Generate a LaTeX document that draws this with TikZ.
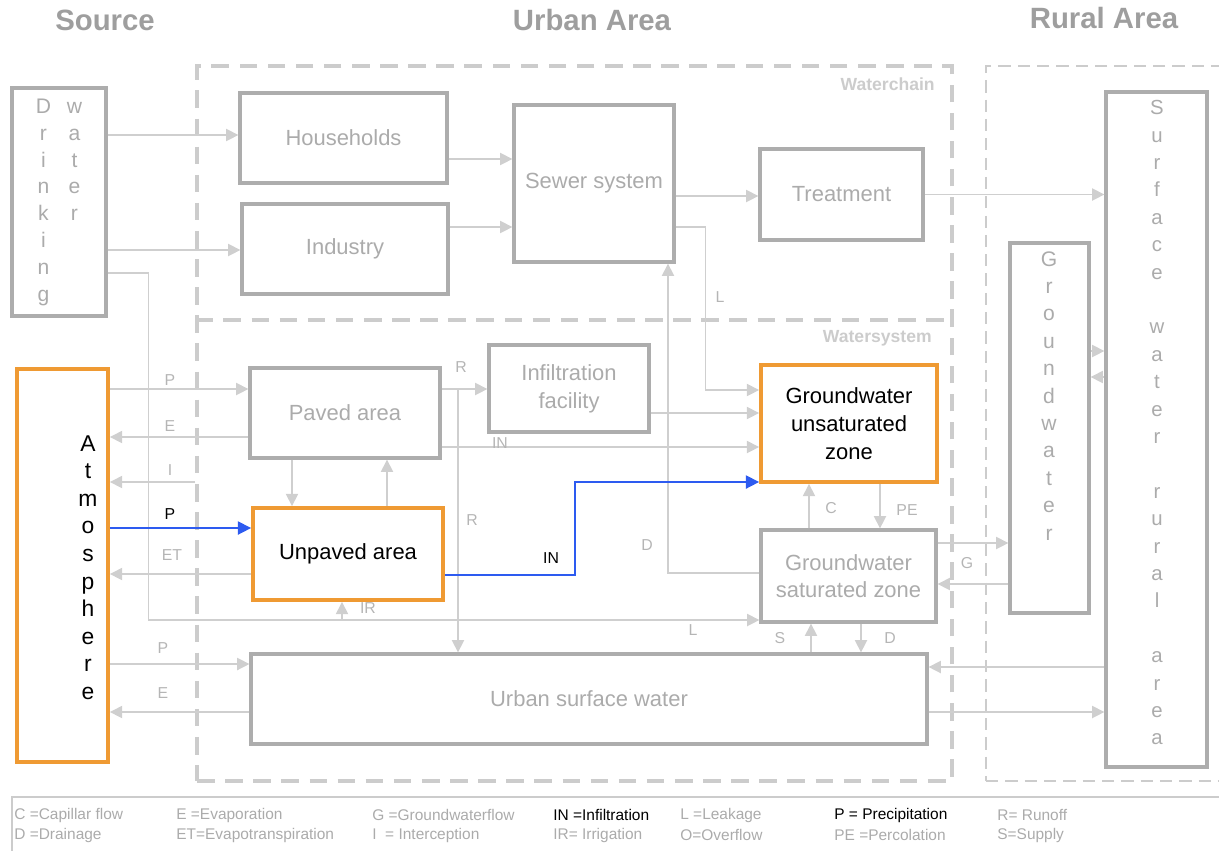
\documentclass[tikz,border=0pt]{standalone}
\usepackage{fontspec}
\setmainfont{Liberation Sans}
\usetikzlibrary{arrows.meta}
\definecolor{hdgray}{HTML}{9E9E9E}
\definecolor{boxgray}{HTML}{ADADAD}
\definecolor{txtgray}{HTML}{ABABAB}
\definecolor{lblgray}{HTML}{B5B5B5}
\definecolor{linegray}{HTML}{CFCFCF}
\definecolor{zonegray}{HTML}{CCCCCC}
\definecolor{hotorange}{HTML}{EF9A33}
\definecolor{flowblue}{HTML}{2D5BF0}

\begin{document}
\begin{tikzpicture}[
      x=0.02cm, y=-0.02cm,
      box/.style={draw=boxgray, line width=1.9pt, inner sep=0pt, align=center, text=txtgray, font=\fontsize{12.5}{15.8}\selectfont},
      hot/.style={box, draw=hotorange, line width=2.2pt, text=black},
      zone/.style={draw=zonegray, line width=2pt, dash pattern=on 10pt off 6pt},
      farzone/.style={draw=zonegray, line width=1.3pt, dash pattern=on 7pt off 4pt},
      zonelabel/.style={text=zonegray, font=\bfseries\fontsize{10}{12}\selectfont, inner sep=0pt},
      head/.style={text=hdgray, font=\bfseries\fontsize{16.7}{20}\selectfont},
      vtext/.style={inner sep=0pt, align=center, anchor=north, text=txtgray},
      flow/.style={text=lblgray, font=\fontsize{9}{11}\selectfont, inner sep=0pt},
      key/.style={anchor=west, inner sep=0pt, text=txtgray, font=\fontsize{8.8}{10}\selectfont},
      arr/.style={draw=linegray, line width=0.8pt, -{Triangle[length=7pt, width=7pt]}},
      inflow/.style={draw=flowblue, line width=0.9pt, -{Triangle[length=7.5pt, width=7.5pt]}}
    ]
      \useasboundingbox (0,0) rectangle (1219,850);

      \node[head] (hsource) at (105,20) {Source};
      \node[head] (hurban) at (592,20) {Urban Area};
      \node[head] (hrural) at (1104,18) {Rural Area};

      \node[zone, minimum width=15.10cm, minimum height=14.30cm] (urban) at (574.5,423.5) {};
      \draw[zone] (urban.west |- 0,320) -- (urban.east |- 0,320);
      \node[farzone, minimum width=5.08cm, minimum height=14.30cm] (rural) at (1113,423.5) {};
      \node[zonelabel, anchor=east] (wchain) at (935,84) {Waterchain};
      \node[zonelabel, anchor=east] (wsystem) at (932,338) {Watersystem};

      \node[box, minimum width=1.88cm, minimum height=4.56cm, font=\fontsize{12}{15.3}\selectfont] (drink) at (59,202)
        {\begin{tabular}{@{}c@{\hspace{9pt}}c@{}} D&w\\ r&a\\ i&t\\ n&e\\ k&r\\ i&\\ n&\\ g&\end{tabular}};
      \node[box, minimum width=4.14cm, minimum height=1.80cm] (house) at (343.5,138) {Households};
      \node[box, minimum width=4.12cm, minimum height=1.80cm] (ind) at (345,249) {Industry};
      \node[box, minimum width=3.20cm, minimum height=3.14cm] (sewer) at (594,183.5) {Sewer system};
      \node[box, minimum width=3.26cm, minimum height=1.82cm] (treat) at (841.5,194.5) {Treatment};

      \node[box, minimum width=3.80cm, minimum height=1.80cm] (paved) at (345,413) {Paved area};
      \node[box, minimum width=3.20cm, minimum height=1.74cm] (infil) at (569,388.5) {Infiltration\\facility};
      \node[hot, minimum width=3.52cm, minimum height=2.34cm] (gwunsat) at (849,423.5) {Groundwater\\unsaturated\\zone};
      \node[hot, minimum width=3.80cm, minimum height=1.84cm] (unpaved) at (348,554) {Unpaved area};
      \node[box, minimum width=3.50cm, minimum height=1.84cm, font=\fontsize{12.5}{15.3}\selectfont] (gwsat) at (848.5,576) {Groundwater\\saturated zone};
      \node[box, minimum width=13.52cm, minimum height=1.80cm] (usw) at (589,699) {Urban surface water};

      \node[hot, minimum width=1.82cm, minimum height=7.86cm] (atm) at (62.5,565.5) {};
      \node[vtext, text=black, font=\fontsize{13}{15.7}\selectfont] (atmtxt) at (88,435) {A\\t\\m\\o\\s\\p\\h\\e\\r\\e};
      \node[box, minimum width=2.02cm, minimum height=13.50cm] (sw) at (1156.5,429.5) {};
      \node[vtext, font=\fontsize{11.6}{15.6}\selectfont] (swtxt) at (1157,100)
        {S\\u\\r\\f\\a\\c\\e\\\mbox{}\\w\\a\\t\\e\\r\\\mbox{}\\r\\u\\r\\a\\l\\\mbox{}\\a\\r\\e\\a};
      \node[box, minimum width=1.58cm, minimum height=7.40cm] (gw) at (1049.5,428) {};
      \node[vtext, font=\fontsize{12}{15.6}\selectfont] (gwtxt) at (1049,251) {G\\r\\o\\u\\n\\d\\w\\a\\t\\e\\r};

      \draw[arr] (drink.east |- 0,135) -- (house.west |- 0,135);
      \draw[arr] (drink.east |- 0,250) -- (ind.west |- 0,250);
      \draw[arr] (house.east |- 0,159) -- (sewer.west |- 0,159);
      \draw[arr] (ind.east |- 0,227) -- (sewer.west |- 0,227);
      \draw[arr] (sewer.east |- 0,196) -- (treat.west |- 0,196);
      \draw[arr] (treat.east) -- (treat.east -| sw.west);
      \draw[arr] (sewer.east |- 0,227) -- ++(30,0) |- (gwunsat.west |- 0,390);
      \draw[arr] (drink.east |- 0,273) -- ++(41,0) |- (gwsat.west |- 0,620);
      \draw[arr] (gwsat.west |- 0,573) -| (sewer.south -| 668,0);

      \draw[arr] (atm.east |- 0,389) -- (paved.west |- 0,389);
      \draw[arr] (paved.west |- 0,437) -- (atm.east |- 0,437);
      \draw[arr] (urban.west |- 0,482) -- (atm.east |- 0,482);
      \draw[inflow] (atm.east |- 0,528) -- (unpaved.west |- 0,528);
      \draw[arr] (unpaved.west |- 0,574) -- (atm.east |- 0,574);
      \draw[arr] (atm.east |- 0,664) -- (usw.west |- 0,664);
      \draw[arr] (usw.west |- 0,712) -- (atm.east |- 0,712);

      \draw[arr] (paved.south -| 292,0) -- (unpaved.north -| 292,0);
      \draw[arr] (unpaved.north -| 387,0) -- (paved.south -| 387,0);
      \draw[arr] (paved.east |- 0,389) -- (infil.west |- 0,389);
      \coordinate (rsplit) at (458,389);
      \draw[arr] (rsplit) -- (usw.north -| rsplit);
      \draw[arr] (paved.east |- 0,447) -- (gwunsat.west |- 0,447);
      \draw[arr] (infil.east |- 0,413) -- (gwunsat.west |- 0,413);
      \draw[inflow] (unpaved.east |- 0,575) -- ++(130,0) |- (gwunsat.west |- 0,482);
      \coordinate (irfoot) at (342,620);
      \draw[arr] (irfoot) -- (unpaved.south -| irfoot);

      \draw[arr] (gwsat.north -| 809,0) -- (gwunsat.south -| 809,0);
      \draw[arr] (gwunsat.south -| 880,0) -- (gwsat.north -| 880,0);
      \draw[arr] (gwsat.east |- 0,543) -- (gw.west |- 0,543);
      \draw[arr] (gw.west |- 0,584) -- (gwsat.east |- 0,584);
      \draw[arr] (gw.east |- 0,351) -- (sw.west |- 0,351);
      \draw[arr] (sw.west |- 0,377) -- (gw.east |- 0,377);
      \draw[arr] (usw.north -| 811,0) -- (gwsat.south -| 811,0);
      \draw[arr] (gwsat.south -| 861,0) -- (usw.north -| 861,0);
      \draw[arr] (sw.west |- 0,667) -- (usw.east |- 0,667);
      \draw[arr] (usw.east |- 0,712) -- (sw.west |- 0,712);

      \node[flow] (fP1) at (170,380) {P};
      \node[flow] (fE1) at (170,426) {E};
      \node[flow] (fI) at (170,470) {I};
      \node[flow, text=black] (fP2) at (170,514) {P};
      \node[flow] (fET) at (172,555) {ET};
      \node[flow] (fP3) at (163,648) {P};
      \node[flow] (fE2) at (163,693) {E};
      \node[flow] (fR1) at (461,367) {R};
      \node[flow] (fR2) at (472,520) {R};
      \node[flow] (fIN1) at (500,443) {IN};
      \node[flow, text=black] (fIN2) at (551,558) {IN};
      \node[flow] (fL1) at (720,297) {L};
      \node[flow] (fD1) at (647,545) {D};
      \node[flow] (fC) at (831,508) {C};
      \node[flow] (fPE) at (907,510) {PE};
      \node[flow] (fG) at (967,563) {G};
      \node[flow] (fIR) at (368,608) {IR};
      \node[flow] (fL2) at (693,630) {L};
      \node[flow] (fS) at (780,638) {S};
      \node[flow] (fD2) at (890,638) {D};

      \node[draw=zonegray, line width=0.8pt, minimum width=24.56cm, minimum height=1.66cm] (legend) at (626,838.5) {};
      \node[key] (kC) at (14,815) {C =Capillar flow};
      \node[key] (kD) at (14,835) {D =Drainage};
      \node[key] (kE) at (176,815) {E =Evaporation};
      \node[key] (kET) at (176,835) {ET=Evapotranspiration};
      \node[key] (kG) at (372,815) {G =Groundwaterflow};
      \node[key] (kI) at (372,835) {I\ \ = Interception};
      \node[key, text=black] (kIN) at (553,815) {IN =Infiltration};
      \node[key] (kIR) at (553,835) {IR= Irrigation};
      \node[key] (kL) at (680,815) {L =Leakage};
      \node[key] (kO) at (680,835) {O=Overflow};
      \node[key, text=black] (kP) at (834,815) {P = Precipitation};
      \node[key] (kPE) at (834,835) {PE =Percolation};
      \node[key] (kR) at (997,815) {R= Runoff};
      \node[key] (kS) at (997,835) {S=Supply};
    \end{tikzpicture}
\end{document}
